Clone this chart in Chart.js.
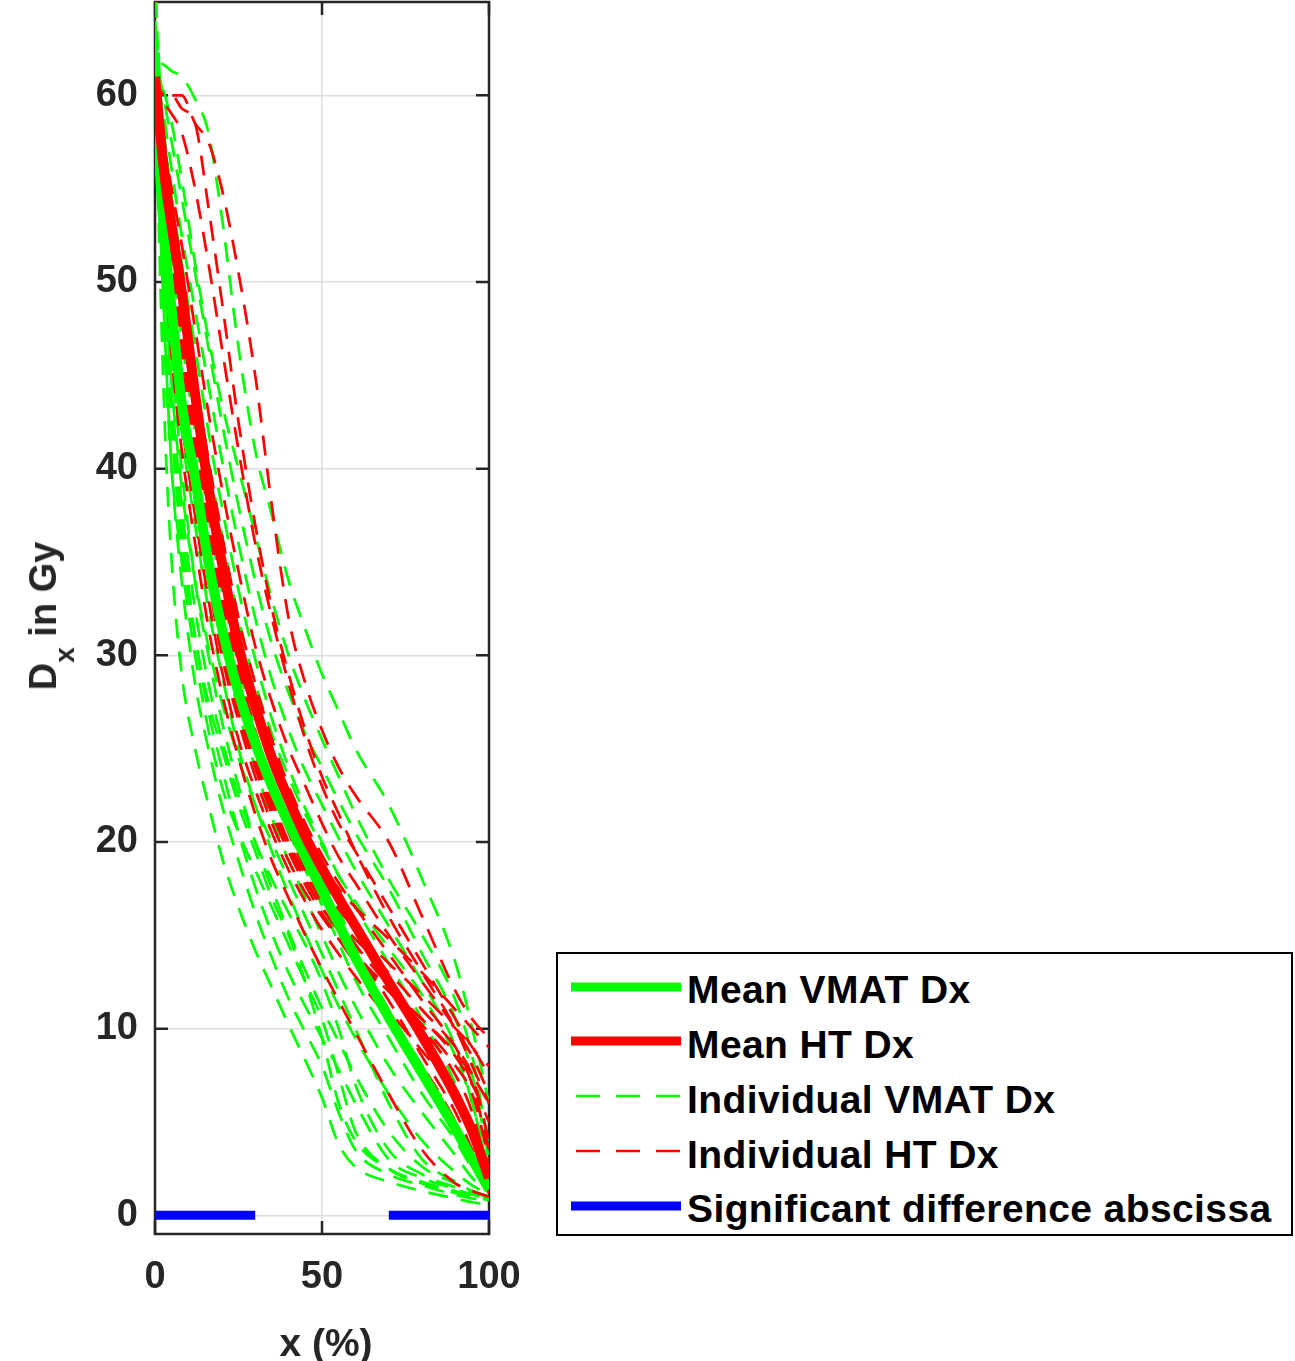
<!DOCTYPE html>
<html><head><meta charset="utf-8">
<script src="https://cdn.jsdelivr.net/npm/chart.js@4.4.1/dist/chart.umd.min.js"></script>
<style>
html,body{margin:0;padding:0;background:#fff;width:1295px;height:1361px;overflow:hidden;font-family:"Liberation Sans",Arial,sans-serif;}
#wrap{position:absolute;left:0;top:0;width:540px;height:1361px;}
.lab{position:absolute;font-weight:bold;color:#262626;white-space:nowrap;font-size:38px;line-height:38px;}
#ytitle{left:45px;top:616px;transform:translate(-50%,-50%) rotate(-90deg);}
#ytitle .sub{font-size:28px;position:relative;top:18px;}
#xtitle{left:326px;top:1324px;transform:translateX(-50%);font-size:39px;line-height:38px;}
#legend{position:absolute;left:556px;top:952px;width:733px;height:280px;border:2px solid #000;background:#fff;}
.ltxt{position:absolute;left:687px;font-weight:bold;color:#000;white-space:nowrap;font-size:39px;line-height:39px;letter-spacing:0.4px;}
.lsam{position:absolute;left:571px;}
</style>
</head><body>
<div id="wrap"><canvas id="c" width="540" height="1361"></canvas></div>
<div class="lab" id="ytitle">D<span class="sub">x</span> in Gy</div>
<div class="lab" id="xtitle">x (%)</div>
<div id="legend"></div>
<div id="legrows"></div>
<script>
// ---- data ----
const X_PCT = [0, 1, 3, 5, 8, 12, 16, 20, 25, 30, 35, 40, 45, 50, 55, 60, 70, 80, 90, 95, 100];

const meanVMAT = [62.3, 57.5, 52, 48.5, 43.5, 39.5, 35, 31.5, 28, 25.3, 23, 21, 19.2, 17.4, 15.6, 13.8, 10.6, 7.6, 4.6, 3, 1.4];
const meanHT   = [61, 59, 55.5, 53, 49.5, 44, 39, 35, 30.5, 27.3, 24.5, 22.3, 20.3, 18.6, 17, 15.5, 12.5, 9.6, 6.4, 4.5, 2];

const vmat01 = [62, 54, 42, 35, 29, 25, 22, 19.2, 16.5, 14.2, 12.2, 10.2, 8.3, 6.3, 3.8, 2.6, 1.8, 1.3, 0.9, 0.7, 0.6];
const vmat02 = [63, 56, 47, 40, 34, 28.5, 25, 22, 19, 16.2, 13.8, 11.6, 9.8, 8, 5.5, 3.5, 2.2, 1.6, 1.1, 0.9, 0.8];
const vmat03 = [62, 57, 49, 43, 37, 31, 27, 24, 20.5, 17.6, 15.1, 13, 11.2, 9.5, 7.8, 6, 3, 2, 1.4, 1.1, 0.9];
const vmat04 = [64, 58, 51, 46, 40, 34, 30, 26.5, 23, 20, 17.5, 15.2, 13.1, 11.1, 9.3, 7.5, 4.5, 2.6, 1.7, 1.3, 1];
const vmat05 = [62, 58, 52, 47.5, 42, 37, 32.5, 29, 25, 22, 19.5, 17.2, 15.1, 13.1, 11.2, 9.5, 6.5, 4, 2.3, 1.6, 1.1];
const vmat06 = [63, 59, 54, 50, 45, 39.5, 35, 31, 27, 24, 21.3, 19, 17, 15, 13, 11.2, 8, 5.5, 3.2, 2, 1.2];
const vmat07 = [62.5, 59.5, 55, 51.5, 47, 42, 37.5, 33.5, 29.5, 26, 23, 20.6, 18.5, 16.6, 14.6, 12.6, 9.5, 6.5, 4, 2.5, 1.3];
const vmat08 = [63, 60, 56.5, 53, 49, 44, 39.5, 35.5, 31, 27.5, 24.6, 22.2, 20, 18.1, 16.3, 14.5, 11, 8, 5, 3, 1.5];
const vmat09 = [63.5, 60.5, 57.5, 54.5, 51, 46.5, 42, 38, 33.5, 29.8, 26.6, 24, 21.8, 20, 18.2, 16.5, 13.5, 10.5, 7, 4.5, 2];
const vmat10 = [64, 61, 58.5, 56, 52.5, 48.5, 44.5, 40.5, 36, 32, 28.7, 26, 23.8, 22, 20.2, 18.5, 15.5, 12.5, 9, 6, 2.5];
const vmat11 = [63, 61.5, 59.5, 57.5, 54.5, 50.5, 46.5, 42.5, 38, 34, 30.6, 28, 25.8, 24, 22.2, 20.5, 17.5, 14, 10.5, 7.5, 3];
const vmat12 = [67, 62.3, 61.6, 61.3, 61, 59.8, 58, 53.5, 46.5, 41, 37.5, 34, 31.4, 29, 27, 25, 22, 18, 13.5, 10, 6];
const vmat13 = [62, 61, 60, 58.5, 55.5, 51, 47, 43.5, 40, 36.5, 33, 30, 27.6, 25.5, 23.5, 21.5, 18, 15, 11.5, 8.5, 3.5];
const vmat14 = [62, 56, 48, 42, 36, 31, 27.5, 25, 22, 19.5, 17, 15, 12.5, 9.5, 6, 4, 2.5, 1.8, 1.3, 1.1, 0.9];
const vmat15 = [62, 55, 46, 40, 35, 30, 26, 23, 20.5, 18.5, 16.5, 14.5, 12.5, 10.5, 7.5, 4.5, 2.5, 1.7, 1.2, 1, 0.8];
const vmat16 = [63, 58, 50, 44.5, 39, 34, 30.5, 27.5, 24.5, 22, 20, 18, 16, 14, 12, 10, 6, 3, 1.8, 1.3, 1];
const vmat17 = [62, 57, 49.5, 44, 38, 32.5, 28.5, 25.5, 22.5, 20, 18, 16.2, 14.5, 12.5, 10, 7, 3.5, 2.2, 1.5, 1.2, 1];
const vmat18 = [63, 60, 57, 54, 50, 45, 40.5, 36.5, 32, 28.5, 25.8, 23.5, 21.5, 19.8, 18.2, 16.8, 14.3, 11.8, 8.5, 6, 2.2];

const ht01 = [61, 58, 53, 49.5, 45, 40, 35.5, 31.5, 27.5, 24.5, 22, 19.8, 18, 16.5, 15.2, 14, 12, 10, 7.5, 5.5, 2];
const ht02 = [61, 58.5, 54, 51, 46.5, 41.5, 37, 33, 28.5, 25.5, 22.8, 20.5, 18.5, 17, 15.8, 14.8, 13, 11, 9, 7.5, 4];
const ht03 = [61, 57.5, 52, 48, 43.5, 38.5, 34, 30, 26.5, 23.5, 21, 19, 17.3, 16, 14.8, 13.8, 12, 10.5, 8.5, 7, 5];
const ht04 = [61, 58, 53.5, 50, 45.5, 41, 36.5, 32.5, 28, 25, 22.3, 20, 18.3, 16.8, 15.5, 14.2, 11.5, 8.5, 5.5, 3.5, 1.5];
const ht05 = [61, 59, 55, 52, 47.5, 42.5, 38, 34, 29.5, 26, 23.3, 21, 19, 17.3, 15.8, 14.5, 12.3, 10.2, 8, 6.5, 3];
const ht06 = [61, 57, 51, 47, 42.5, 37.5, 33, 29.2, 25.5, 22.8, 20.5, 18.5, 16.8, 15.3, 14, 12.8, 10.5, 8, 5, 3, 1.2];
const ht07 = [61, 58.5, 54.5, 51.5, 47, 42, 37.5, 33.5, 29, 25.8, 23, 20.8, 19, 17.6, 16.4, 15.3, 13.5, 11.8, 10, 9, 7.5];
const ht08 = [61, 57.5, 52.5, 48.5, 44, 39, 34.5, 30.5, 27, 24, 21.5, 19.5, 17.7, 16.2, 14.8, 13.5, 11, 8.8, 6.5, 4.5, 1.8];
const ht09 = [61, 60, 59.5, 59, 58, 55, 51, 46.5, 41, 36, 32, 28.5, 25.5, 23, 21, 19.5, 16.5, 13.5, 10.5, 9, 8];
const ht10 = [61, 60.5, 60, 60, 59.3, 58.5, 54, 49, 42.5, 37, 32.5, 29, 26, 23.5, 21.5, 19.5, 16, 13, 10, 8, 6];
const ht11 = [61, 60, 60, 60, 60, 58.5, 57.5, 55, 50.5, 45, 38, 32, 28.5, 26, 24, 22.5, 20, 16, 12, 10.5, 9.5];
const ht12 = [61, 57, 51, 46, 41, 36, 31.5, 28, 24.5, 21.5, 19, 17, 15, 13.2, 11.5, 9.8, 6.5, 3.5, 1.7, 1.3, 1];
const ht13 = [61, 59.5, 57, 55, 52, 47.5, 43, 39, 34.5, 30.5, 27.5, 25, 23, 21, 19.2, 17.8, 15, 12.5, 10, 8.5, 6.5];
const ht14 = [61, 59, 56, 53.5, 50, 45, 40.5, 36.5, 32, 28.5, 25.5, 23, 21, 19.3, 17.8, 16.5, 14, 11.5, 9, 7, 3.5];
const ht15 = [61, 59, 55.5, 52.5, 48.5, 43.5, 39, 35, 30.5, 27, 24.2, 22, 20.2, 18.8, 17.5, 16.5, 14.8, 13, 11, 10, 9];
const ht16 = [61, 58, 53, 49, 44.5, 39.5, 35, 31, 27, 24.2, 21.8, 19.7, 18, 16.5, 15.2, 14, 12.2, 10.5, 8.7, 7.5, 6];

const sigStart = [0, 70];
const sigEnd = [30, 100];
const sigLevel = 0;

const xTicks = [0, 50, 100];
const yTicks = [0, 10, 20, 30, 40, 50, 60];

const legendLabels = ['Mean VMAT Dx', 'Mean HT Dx', 'Individual VMAT Dx', 'Individual HT Dx', 'Significant difference abscissa'];

// ---- build ----
const GREEN = '#00ff00', RED = '#ff0000', BLUE = '#0000ff';
const toXY = arr => arr.map((y, i) => ({x: X_PCT[i], y}));
const DASH = [20, 13];

const datasets = [];
datasets.push({label: legendLabels[0], data: toXY(meanVMAT), borderColor: GREEN, borderWidth: 10, order: 2});
datasets.push({label: legendLabels[1], data: toXY(meanHT), borderColor: RED, borderWidth: 10, order: 1});
[vmat01, vmat02, vmat03, vmat04, vmat05, vmat06, vmat07, vmat08, vmat09, vmat10, vmat11, vmat12, vmat13, vmat14, vmat15, vmat16, vmat17, vmat18]
  .forEach(a => datasets.push({label: legendLabels[2], data: toXY(a), borderColor: GREEN, borderWidth: 2.7, borderDash: DASH, order: 20}));
[ht01, ht02, ht03, ht04, ht05, ht06, ht07, ht08, ht09, ht10, ht11, ht12, ht13, ht14, ht15, ht16]
  .forEach(a => datasets.push({label: legendLabels[3], data: toXY(a), borderColor: RED, borderWidth: 2.7, borderDash: DASH, order: 10}));
const sigData = [];
sigStart.forEach((s, i) => {
  if (i > 0) sigData.push({x: (sigEnd[i - 1] + s) / 2, y: null});
  sigData.push({x: s, y: sigLevel});
  sigData.push({x: sigEnd[i], y: sigLevel});
});
datasets.push({label: legendLabels[4], data: sigData, borderColor: BLUE, borderWidth: 9, spanGaps: false, cubicInterpolationMode: 'default', tension: 0, order: 0});

const frame = {
  id: 'frame',
  beforeDatasetsDraw(chart) {
    const {ctx, chartArea: a, scales: {x, y}} = chart;
    ctx.save();
    ctx.strokeStyle = '#262626';
    ctx.lineWidth = 2.5;
    ctx.strokeRect(a.left, a.top, a.right - a.left, a.bottom - a.top);
    ctx.beginPath();
    const L = 13;
    yTicks.forEach(v => {
      const p = y.getPixelForValue(v);
      ctx.moveTo(a.left, p); ctx.lineTo(a.left + L, p);
      ctx.moveTo(a.right, p); ctx.lineTo(a.right - L, p);
    });
    xTicks.forEach(v => {
      const p = x.getPixelForValue(v);
      ctx.moveTo(p, a.bottom); ctx.lineTo(p, a.bottom - L);
      ctx.moveTo(p, a.top); ctx.lineTo(p, a.top + L);
    });
    ctx.stroke();
    ctx.restore();
  }
};

const tickFont = {family: '"Liberation Sans", Arial, sans-serif', size: 38, weight: 'bold'};

new Chart(document.getElementById('c'), {
  type: 'line',
  data: {datasets},
  options: {
    responsive: false,
    animation: false,
    devicePixelRatio: 1,
    layout: {padding: {top: 2, right: 51, left: 0, bottom: 0}},
    elements: {
      point: {radius: 0, hoverRadius: 0},
      line: {fill: false, cubicInterpolationMode: 'monotone', borderCapStyle: 'butt', borderJoinStyle: 'round'}
    },
    plugins: {legend: {display: false}, tooltip: {enabled: false}},
    events: [],
    scales: {
      x: {
        type: 'linear', min: 0, max: 100,
        afterBuildTicks: s => { s.ticks = xTicks.map(v => ({value: v})); },
        afterFit: s => { s.height = 127; s.paddingLeft = 0; s.paddingRight = 0; s.paddingTop = 0; s.paddingBottom = 0; },
        ticks: {font: tickFont, color: '#262626', padding: 21, maxRotation: 0},
        grid: {color: '#dedede', lineWidth: 1.5, drawTicks: false},
        border: {display: false}
      },
      y: {
        type: 'linear', min: -1, max: 65,
        afterBuildTicks: s => { s.ticks = yTicks.map(v => ({value: v})); },
        afterFit: s => { s.width = 155; s.paddingTop = 0; s.paddingBottom = 0; s.paddingLeft = 0; s.paddingRight = 0; },
        ticks: {font: tickFont, color: '#262626', padding: 17},
        grid: {color: '#dedede', lineWidth: 1.5, drawTicks: false},
        border: {display: false}
      }
    }
  },
  plugins: [frame]
});

// ---- HTML legend ----
const legStyles = [
  {color: GREEN, w: 9, dash: null},
  {color: RED, w: 9, dash: null},
  {color: GREEN, w: 2.5, dash: '24 16'},
  {color: RED, w: 2.5, dash: '24 16'},
  {color: BLUE, w: 9, dash: null}
];
const rows = document.getElementById('legrows');
legendLabels.forEach((t, i) => {
  const cy = 986.5 + 54.75 * i;
  const st = legStyles[i];
  const svg = document.createElementNS('http://www.w3.org/2000/svg', 'svg');
  svg.setAttribute('class', 'lsam');
  svg.setAttribute('width', '110'); svg.setAttribute('height', '14');
  svg.style.top = (cy - 7) + 'px';
  const ln = document.createElementNS('http://www.w3.org/2000/svg', 'line');
  ln.setAttribute('x1', st.dash ? 5 : 0); ln.setAttribute('x2', 110);
  ln.setAttribute('y1', 7); ln.setAttribute('y2', 7);
  ln.setAttribute('stroke', st.color); ln.setAttribute('stroke-width', st.w);
  if (st.dash) ln.setAttribute('stroke-dasharray', st.dash);
  svg.appendChild(ln);
  rows.appendChild(svg);
  const d = document.createElement('div');
  d.className = 'ltxt';
  d.textContent = t;
  d.style.top = (989.5 - 19.1 + 54.75 * i) + 'px';
  rows.appendChild(d);
});
</script>
</body></html>
